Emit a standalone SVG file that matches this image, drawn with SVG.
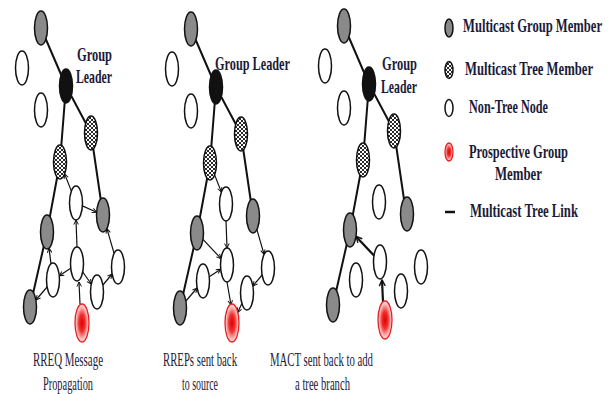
<svg xmlns="http://www.w3.org/2000/svg" width="613" height="394" viewBox="0 0 613 394">
<style>
.n{stroke:#111;stroke-width:1.5}
.gray{fill:#8a8a8a}
.white{fill:#fff}
.black{fill:#111}
.hatch{fill:url(#hatch)}
.red{fill:url(#redg);stroke:#e52020;stroke-width:1.3}
.tree{stroke:#111;stroke-width:2;fill:none;stroke-linecap:round}
.arr{stroke:#111;stroke-width:1.2;fill:none;marker-end:url(#ah)}
.tarr{stroke:#111;stroke-width:2.2;fill:none;marker-end:url(#ahb)}
.lbl{font-family:"Liberation Serif","Times New Roman",serif;font-weight:bold;fill:#1b1b38;font-size:12.5px}
.cap{font-family:"Liberation Serif","Times New Roman",serif;fill:#1b1b38;font-size:11.5px}
.leg{font-family:"Liberation Serif","Times New Roman",serif;font-weight:bold;fill:#1b1b38;font-size:12.5px}
</style>
<defs>
<pattern id="hatch" patternUnits="userSpaceOnUse" width="4" height="4">
<rect width="4" height="4" fill="#fff"/>
<path d="M0,0 L4,4 M4,0 L0,4" stroke="#111" stroke-width="0.9"/>
</pattern>
<radialGradient id="redg" cx="0.5" cy="0.5" r="0.5">
<stop offset="0" stop-color="#e00000"/>
<stop offset="0.45" stop-color="#f03030"/>
<stop offset="0.8" stop-color="#fbb0b0"/>
<stop offset="1" stop-color="#ffe8e8"/>
</radialGradient>
<marker id="ah" viewBox="0 0 8 8" refX="7" refY="4" markerWidth="6" markerHeight="6" markerUnits="userSpaceOnUse" orient="auto">
<path d="M1,1 L7,4 L1,7" fill="none" stroke="#111" stroke-width="1.3"/>
</marker>
<marker id="ahb" viewBox="0 0 8 8" refX="7" refY="4" markerWidth="8" markerHeight="8" markerUnits="userSpaceOnUse" orient="auto">
<path d="M1,1 L7,4 L1,7" fill="none" stroke="#111" stroke-width="1.4"/>
</marker>
</defs>
<rect width="613" height="394" fill="#fff"/>

<!-- Panel 1: RREQ -->
<g id="panel1">
<g id="p1-connectors">
<path class="tree" d="M41,28 L66,86 M66,86 L91,133 M66,86 L60,162 M91,133 L103,215 M60,162 L47,232 M47,232 L30,307"/>
<path class="arr" d="M80,304 L79,282"/>
<path class="arr" d="M70.7,268.2 L59.3,275.8"/>
<path class="arr" d="M51,263.8 L49,248.2"/>
<path class="arr" d="M47.1,287 L35.9,300"/>
<path class="arr" d="M77,247 L76,220"/>
<path class="arr" d="M71.4,191.1 L64.6,173.9"/>
<path class="arr" d="M82.4,205.9 L96.6,212.2"/>
<path class="arr" d="M82.7,272 L91.3,284"/>
<path class="arr" d="M102.9,285 L112.1,274"/>
<path class="arr" d="M114.1,253.4 L106.9,228.6"/>
</g>
<g id="p1-gt"><ellipse class="n gray" cx="41" cy="28" rx="6.5" ry="17"/></g>
<g id="p1-wl"><ellipse class="n white" cx="22" cy="68" rx="6.5" ry="17"/></g>
<g id="p1-leader"><ellipse class="n black" cx="66" cy="86" rx="6.5" ry="17"/>
<text class="lbl" transform="translate(77,61) scale(1,1.5)" textLength="35" lengthAdjust="spacingAndGlyphs">Group</text>
<text class="lbl" transform="translate(76,83) scale(1,1.5)" textLength="36" lengthAdjust="spacingAndGlyphs">Leader</text></g>
<g id="p1-w2"><ellipse class="n white" cx="41" cy="110" rx="6.5" ry="17"/></g>
<g id="p1-hr"><ellipse class="n hatch" cx="91" cy="133" rx="6.5" ry="17"/></g>
<g id="p1-hl"><ellipse class="n hatch" cx="60" cy="162" rx="6.5" ry="17"/></g>
<g id="p1-a"><ellipse class="n white" cx="76" cy="203" rx="6.5" ry="17"/></g>
<g id="p1-gr"><ellipse class="n gray" cx="103" cy="215" rx="6.5" ry="17"/></g>
<g id="p1-gl"><ellipse class="n gray" cx="47" cy="232" rx="6.5" ry="17"/></g>
<g id="p1-b"><ellipse class="n white" cx="77" cy="264" rx="6.5" ry="17"/></g>
<g id="p1-fr"><ellipse class="n white" cx="118" cy="267" rx="6.5" ry="17"/></g>
<g id="p1-c"><ellipse class="n white" cx="53" cy="280" rx="6.5" ry="17"/></g>
<g id="p1-d"><ellipse class="n white" cx="97" cy="292" rx="6.5" ry="17"/></g>
<g id="p1-gb"><ellipse class="n gray" cx="30" cy="307" rx="6.5" ry="17"/></g>
<g id="p1-r"><ellipse class="red" cx="82" cy="323" rx="7" ry="19"/></g>
<text class="cap" transform="translate(33,366) scale(1,1.7)" textLength="70" lengthAdjust="spacingAndGlyphs">RREQ Message</text>
<text class="cap" transform="translate(43,390) scale(1,1.7)" textLength="50" lengthAdjust="spacingAndGlyphs">Propagation</text>
</g>

<!-- Panel 2: RREP -->
<g id="panel2">
<g transform="translate(150,1)">
<g id="p2-connectors">
<path class="tree" d="M41,28 L66,86 M66,86 L91,133 M66,86 L60,162 M91,133 L103,215 M60,162 L47,232 M47,232 L30,307"/>
<path class="arr" d="M64.6,173.9 L71.4,191.1"/>
<path class="arr" d="M76,220 L77,247"/>
<path class="arr" d="M53,238.4 L71,257.6"/>
<path class="arr" d="M35.9,300 L47.1,287"/>
<path class="arr" d="M59.3,275.8 L70.7,268.2"/>
<path class="arr" d="M77,281 L81,304"/>
<path class="arr" d="M106.9,228.6 L114.1,253.4"/>
<path class="arr" d="M112.1,274 L102.9,285"/>
<path class="arr" d="M91.9,302.5 L87.6,311.5"/>
</g>
<g id="p2-gt"><ellipse class="n gray" cx="41" cy="28" rx="6.5" ry="17"/></g>
<g id="p2-wl"><ellipse class="n white" cx="22" cy="68" rx="6.5" ry="17"/></g>
<g id="p2-leader"><ellipse class="n black" cx="66" cy="86" rx="6.5" ry="17"/>
<text class="lbl" transform="translate(65,69) scale(1,1.5)" textLength="75" lengthAdjust="spacingAndGlyphs">Group Leader</text></g>
<g id="p2-w2"><ellipse class="n white" cx="41" cy="110" rx="6.5" ry="17"/></g>
<g id="p2-hr"><ellipse class="n hatch" cx="91" cy="133" rx="6.5" ry="17"/></g>
<g id="p2-hl"><ellipse class="n hatch" cx="60" cy="162" rx="6.5" ry="17"/></g>
<g id="p2-a"><ellipse class="n white" cx="76" cy="203" rx="6.5" ry="17"/></g>
<g id="p2-gr"><ellipse class="n gray" cx="103" cy="215" rx="6.5" ry="17"/></g>
<g id="p2-gl"><ellipse class="n gray" cx="47" cy="232" rx="6.5" ry="17"/></g>
<g id="p2-b"><ellipse class="n white" cx="77" cy="264" rx="6.5" ry="17"/></g>
<g id="p2-fr"><ellipse class="n white" cx="118" cy="267" rx="6.5" ry="17"/></g>
<g id="p2-c"><ellipse class="n white" cx="53" cy="280" rx="6.5" ry="17"/></g>
<g id="p2-d"><ellipse class="n white" cx="97" cy="292" rx="6.5" ry="17"/></g>
<g id="p2-gb"><ellipse class="n gray" cx="30" cy="307" rx="6.5" ry="17"/></g>
<g id="p2-r"><ellipse class="red" cx="82" cy="322" rx="7" ry="19"/></g>
</g>
<text class="cap" transform="translate(163,366) scale(1,1.7)" textLength="74" lengthAdjust="spacingAndGlyphs">RREPs sent back</text>
<text class="cap" transform="translate(182,390) scale(1,1.7)" textLength="36" lengthAdjust="spacingAndGlyphs">to source</text>
</g>

<!-- Panel 3: MACT -->
<g id="panel3">
<g transform="translate(303,-2)">
<g id="p3-connectors">
<path class="tree" d="M41,28 L66,86 M66,86 L91,133 M66,86 L60,162 M91,133 L103,215 M60,162 L47,232 M47,232 L30,307"/>
<path class="tarr" d="M80,304 L79,282"/>
<path class="tarr" d="M71,257.6 L53,238.4"/>
</g>
<g id="p3-gt"><ellipse class="n gray" cx="41" cy="28" rx="6.5" ry="17"/></g>
<g id="p3-wl"><ellipse class="n white" cx="22" cy="68" rx="6.5" ry="17"/></g>
<g id="p3-leader"><ellipse class="n black" cx="66" cy="86" rx="6.5" ry="17"/>
<text class="lbl" transform="translate(79,72) scale(1,1.5)" textLength="35" lengthAdjust="spacingAndGlyphs">Group</text>
<text class="lbl" transform="translate(78,95) scale(1,1.5)" textLength="36" lengthAdjust="spacingAndGlyphs">Leader</text></g>
<g id="p3-w2"><ellipse class="n white" cx="41" cy="110" rx="6.5" ry="17"/></g>
<g id="p3-hr"><ellipse class="n hatch" cx="91" cy="133" rx="6.5" ry="17"/></g>
<g id="p3-hl"><ellipse class="n hatch" cx="60" cy="162" rx="6.5" ry="17"/></g>
<g id="p3-a"><ellipse class="n white" cx="76" cy="204" rx="6.5" ry="17"/></g>
<g id="p3-gr"><ellipse class="n gray" cx="104" cy="216" rx="6.5" ry="17"/></g>
<g id="p3-gl"><ellipse class="n gray" cx="47" cy="232" rx="6.5" ry="17"/></g>
<g id="p3-b"><ellipse class="n white" cx="77" cy="264" rx="6.5" ry="17"/></g>
<g id="p3-fr"><ellipse class="n white" cx="118" cy="269" rx="6.5" ry="17"/></g>
<g id="p3-c"><ellipse class="n white" cx="53" cy="282" rx="6.5" ry="17"/></g>
<g id="p3-d"><ellipse class="n white" cx="98" cy="293" rx="6.5" ry="17"/></g>
<g id="p3-gb"><ellipse class="n gray" cx="30" cy="307" rx="6.5" ry="17"/></g>
<g id="p3-r"><ellipse class="red" cx="82" cy="322" rx="7" ry="19"/></g>
</g>
<text class="cap" transform="translate(270,366) scale(1,1.7)" textLength="103" lengthAdjust="spacingAndGlyphs">MACT sent back to add</text>
<text class="cap" transform="translate(295,390) scale(1,1.7)" textLength="55" lengthAdjust="spacingAndGlyphs">a tree branch</text>
</g>

<!-- Legend -->
<g id="legend">
<g id="leg-group"><ellipse class="n gray" cx="449" cy="28" rx="4" ry="9"/>
<text class="leg" transform="translate(463,32) scale(1,1.45)" textLength="139" lengthAdjust="spacingAndGlyphs">Multicast Group Member</text></g>
<g id="leg-tree"><ellipse class="n hatch" cx="449" cy="70" rx="4" ry="8.5"/>
<text class="leg" transform="translate(465,75) scale(1,1.45)" textLength="128" lengthAdjust="spacingAndGlyphs">Multicast Tree Member</text></g>
<g id="leg-nontree"><ellipse class="n white" cx="449" cy="108" rx="4" ry="8.5"/>
<text class="leg" transform="translate(469,113) scale(1,1.45)" textLength="79" lengthAdjust="spacingAndGlyphs">Non-Tree Node</text></g>
<g id="leg-prosp"><ellipse class="red" cx="449" cy="152" rx="4" ry="9"/>
<text class="leg" transform="translate(469,158) scale(1,1.45)" textLength="99" lengthAdjust="spacingAndGlyphs">Prospective Group</text>
<text class="leg" transform="translate(495,180) scale(1,1.45)" textLength="47" lengthAdjust="spacingAndGlyphs">Member</text></g>
<g id="leg-link"><line x1="445" y1="212" x2="455" y2="212" stroke="#111" stroke-width="2.5"/>
<text class="leg" transform="translate(470,217) scale(1,1.45)" textLength="108" lengthAdjust="spacingAndGlyphs">Multicast Tree Link</text></g>
</g>
</svg>
